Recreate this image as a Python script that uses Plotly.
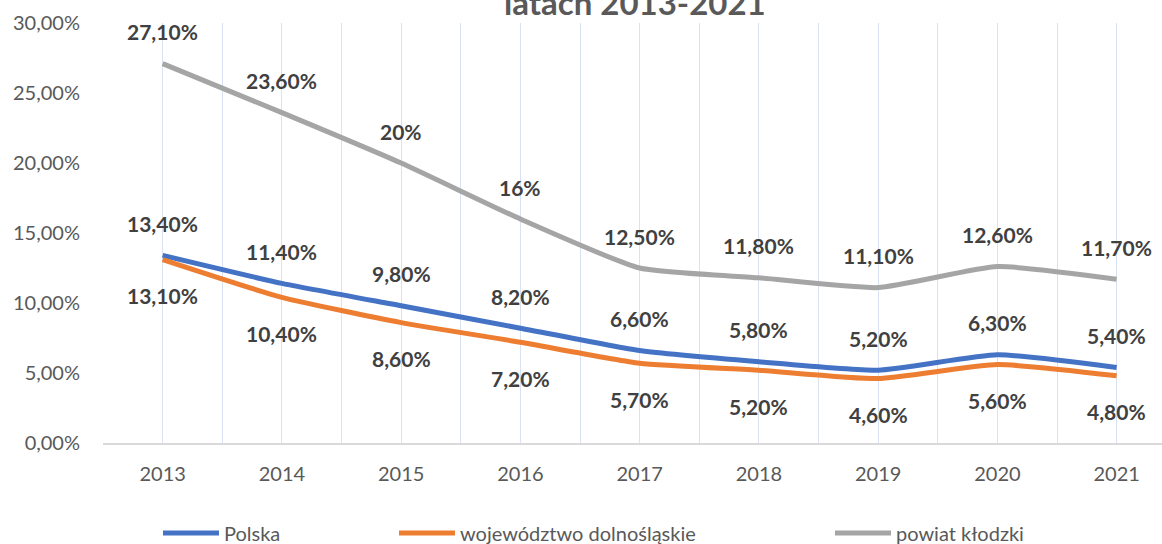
import plotly.graph_objects as go

years = [2013, 2014, 2015, 2016, 2017, 2018, 2019, 2020, 2021]
polska = [13.4, 11.4, 9.8, 8.2, 6.6, 5.8, 5.2, 6.3, 5.4]
dolnoslaskie = [13.1, 10.4, 8.6, 7.2, 5.7, 5.2, 4.6, 5.6, 4.8]
klodzki = [27.1, 23.6, 20, 16, 12.5, 11.8, 11.1, 12.6, 11.7]

polska_labels = ["13,40%", "11,40%", "9,80%", "8,20%", "6,60%", "5,80%", "5,20%", "6,30%", "5,40%"]
dolnoslaskie_labels = ["13,10%", "10,40%", "8,60%", "7,20%", "5,70%", "5,20%", "4,60%", "5,60%", "4,80%"]
klodzki_labels = ["27,10%", "23,60%", "20%", "16%", "12,50%", "11,80%", "11,10%", "12,60%", "11,70%"]

y_ticks = [0, 5, 10, 15, 20, 25, 30]
y_ticktext = ["0,00%", "5,00%", "10,00%", "15,00%", "20,00%", "25,00%", "30,00%"]

series_names = ["Polska", "województwo dolnośląskie", "powiat kłodzki"]
colors = ["#4472C4", "#ED7D31", "#A5A5A5"]

FONT = "Lato"
LABEL_COLOR = "#404040"
TEXT_COLOR = "#595959"

PLOT_L, PLOT_R, PLOT_T, PLOT_B = 103, 1162, 23, 443

fig = go.Figure()
all_series = [polska, dolnoslaskie, klodzki]
legend_ids = ["legend", "legend2", "legend3"]
for name, vals, col, lg in zip(series_names, all_series, colors, legend_ids):
    fig.add_trace(go.Scatter(
        x=years, y=vals, name=name, mode="lines",
        line=dict(color=col, width=5, shape="spline", smoothing=0.5),
        legend=lg, cliponaxis=False, hoverinfo="skip",
    ))

annotations = []
for vals, labels, shift in [(klodzki, klodzki_labels, 32), (polska, polska_labels, 32), (dolnoslaskie, dolnoslaskie_labels, -36)]:
    for x, v, t in zip(years, vals, labels):
        annotations.append(dict(
            x=x, y=v, xref="x", yref="y", text=t, showarrow=False,
            yshift=shift, xanchor="center", yanchor="middle",
            font=dict(family=FONT, size=21, color=LABEL_COLOR, weight="bold"),
        ))

annotations.append(dict(
    x=(635 - PLOT_L) / (PLOT_R - PLOT_L), y=(PLOT_B - 2) / (PLOT_B - PLOT_T),
    xref="paper", yref="paper",
    text="latach 2013-2021", showarrow=False, xanchor="center", yanchor="middle",
    font=dict(family=FONT, size=33, color=TEXT_COLOR, weight="bold"),
))

grid_color = "#D9E2F3"
legend_common = dict(
    orientation="h", xref="container", yref="container", yanchor="middle",
    y=1 - 533 / 544, font=dict(family=FONT, size=20, color=TEXT_COLOR),
    bgcolor="rgba(0,0,0,0)", itemwidth=56, tracegroupgap=0,
)

fig.update_layout(
    width=1162, height=544,
    margin=dict(l=PLOT_L, r=1162 - PLOT_R, t=PLOT_T, b=544 - PLOT_B),
    plot_bgcolor="white", paper_bgcolor="white",
    font=dict(family=FONT, color=TEXT_COLOR),
    showlegend=True,
    legend=dict(x=158 / 1162, **legend_common),
    legend2=dict(x=394 / 1162, **legend_common),
    legend3=dict(x=830 / 1162, **legend_common),
    annotations=annotations,
    xaxis=dict(
        range=[2012.5, 2012.5 + (PLOT_R - PLOT_L) / 119.25],
        tickmode="array", tickvals=years, ticktext=[str(y) for y in years],
        showgrid=True, gridcolor=grid_color, gridwidth=1,
        minor=dict(tickmode="linear", tick0=2012.5, dtick=1, showgrid=True,
                   gridcolor=grid_color, gridwidth=1, ticks=""),
        showline=True, linecolor="#D9D9D9", linewidth=2,
        ticks="", ticklabelstandoff=12,
        tickfont=dict(family=FONT, size=20, color=TEXT_COLOR),
        zeroline=False, fixedrange=True,
    ),
    yaxis=dict(
        range=[0, 30], tickmode="array", tickvals=y_ticks, ticktext=y_ticktext,
        showgrid=False, zeroline=False, showline=False, ticks="",
        ticklabelstandoff=22,
        tickfont=dict(family=FONT, size=20, color=TEXT_COLOR), fixedrange=True,
    ),
)

fig.write_html(
    "out.html",
    config={"displayModeBar": False},
    post_script="document.body.style.margin='0';document.body.style.overflow='hidden';",
)
